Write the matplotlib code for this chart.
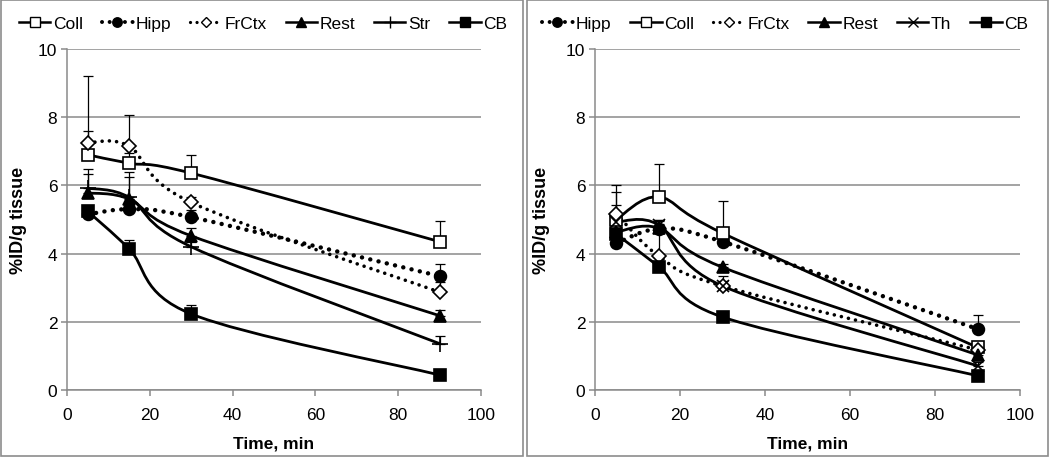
import numpy as np
import matplotlib
matplotlib.use("Agg")
import matplotlib.pyplot as plt
from matplotlib.path import Path
from matplotlib.patches import PathPatch, Rectangle
from matplotlib.lines import Line2D

plt.rcParams["font.family"] = ["Liberation Sans", "DejaVu Sans"]

# ==========================
# Data
# ==========================
time = [5, 15, 30, 90]

# left panel
left_names = ["Coll", "Hipp", "FrCtx", "Rest", "Str", "CB"]
left_vals = {
    "Coll": [6.9, 6.65, 6.36, 4.35],
    "Hipp": [5.15, 5.3, 5.07, 3.34],
    "FrCtx": [7.25, 7.15, 5.5, 2.87],
    "Rest": [5.78, 5.6, 4.52, 2.18],
    "Str": [5.92, 5.65, 4.2, 1.36],
    "CB": [5.24, 4.14, 2.23, 0.44],
}
left_err = {
    "Coll": [0.7, 0.3, 0.52, 0.6],
    "Hipp": [0.2, 0.2, 0.2, 0.36],
    "FrCtx": [1.95, 0.9, 0.15, 0.3],
    "Rest": [0.55, 0.8, 0.23, 0.17],
    "Str": [0.55, 0.6, 0.15, 0.22],
    "CB": [0.1, 0.27, 0.25, 0.05],
}

# right panel
right_names = ["Hipp", "Coll", "FrCtx", "Rest", "Th", "CB"]
right_vals = {
    "Hipp": [4.3, 4.72, 4.35, 1.79],
    "Coll": [5.0, 5.66, 4.6, 1.25],
    "FrCtx": [5.17, 3.93, 3.05, 1.18],
    "Rest": [4.63, 4.75, 3.6, 1.03],
    "Th": [4.93, 4.84, 3.05, 0.71],
    "CB": [4.57, 3.62, 2.14, 0.42],
}
right_err = {
    "Hipp": [0.2, 0.15, 0.2, 0.4],
    "Coll": [0.43, 0.97, 0.95, 0.15],
    "FrCtx": [0.83, 1.05, 0.15, 0.1],
    "Rest": [0.3, 0.2, 0.1, 0.1],
    "Th": [0.87, 0.16, 0.3, 0.1],
    "CB": [0.1, 0.1, 0.1, 0.05],
}

# line / marker styles per region
styles = {
    "Coll": dict(marker="s", mfc="white", ms=9, ls="-", lw=2.0),
    "Hipp": dict(marker="o", mfc="black", ms=8.5, ls=(0, (0.01, 1.9)), lw=3.2),
    "FrCtx": dict(marker="D", mfc="white", ms=7, ls=(0, (0.01, 2.0)), lw=2.6),
    "Rest": dict(marker="^", mfc="black", ms=9, ls="-", lw=2.0),
    "Str": dict(marker="+", mfc="black", ms=11, ls="-", lw=2.0),
    "Th": dict(marker="x", mfc="black", ms=9, ls="-", lw=2.0),
    "CB": dict(marker="s", mfc="black", ms=9, ls="-", lw=2.0),
}


def smooth_path(x, y):
    # Excel-like smoothed line (Catmull-Rom as cubic Bezier)
    pts = np.column_stack([x, y]).astype(float)
    n = len(pts)
    verts = [pts[0]]
    codes = [Path.MOVETO]
    for i in range(n - 1):
        p0 = pts[max(i - 1, 0)]
        p1 = pts[i]
        p2 = pts[i + 1]
        p3 = pts[min(i + 2, n - 1)]
        c1 = p1 + (p2 - p0) / 6.0
        c2 = p2 - (p3 - p1) / 6.0
        verts += [c1, c2, p2]
        codes += [Path.CURVE4] * 3
    return Path(verts, codes)


def draw_panel(ax, names, vals, errs):
    ax.set_xlim(0, 100)
    ax.set_ylim(0, 10)
    ax.set_xticks(range(0, 101, 20))
    ax.set_yticks(range(0, 11, 2))
    ax.grid(axis="y", color="#8a8a8a", lw=1.1)
    ax.set_axisbelow(True)
    for s in ["top", "right"]:
        ax.spines[s].set_visible(False)
    for s in ["left", "bottom"]:
        ax.spines[s].set_color("#8a8a8a")
        ax.spines[s].set_linewidth(1.1)
    ax.tick_params(colors="#8a8a8a", labelcolor="black", labelsize=12.5,
                   length=4, width=1.1)
    ax.tick_params(axis="y", pad=3)
    ax.tick_params(axis="x", pad=8)

    handles = []
    for name in names:
        st = styles[name]
        y = vals[name]
        e = errs[name]
        patch = PathPatch(smooth_path(time, y), fill=False, edgecolor="black",
                          lw=st["lw"], linestyle=st["ls"], capstyle="round",
                          zorder=3)
        ax.add_patch(patch)
        ax.errorbar(time, y, yerr=[np.zeros(len(e)), e], fmt="none",
                    ecolor="black", elinewidth=0.9, capsize=3.5,
                    capthick=0.9, zorder=4)
        ax.plot(time, y, linestyle="none", marker=st["marker"],
                markersize=st["ms"], markerfacecolor=st["mfc"],
                markeredgecolor="black", markeredgewidth=1.2, zorder=5)
        handles.append(Line2D([0], [0], color="black", lw=st["lw"] * 0.9,
                              linestyle=st["ls"], dash_capstyle="round",
                              marker=st["marker"], markersize=st["ms"] * 0.8,
                              markerfacecolor=st["mfc"],
                              markeredgecolor="black", markeredgewidth=1.0,
                              label=name))
    ax.set_xlabel("Time, min", fontsize=12.5, fontweight="bold", labelpad=10)
    ax.set_ylabel("%ID/g tissue", fontsize=13, fontweight="bold")
    return handles


fig = plt.figure(figsize=(10.5, 4.6), dpi=100)

ax1 = fig.add_axes([67 / 1050, 69 / 460, 414 / 1050, 341 / 460])
ax2 = fig.add_axes([595 / 1050, 69 / 460, 425 / 1050, 341 / 460])

h1 = draw_panel(ax1, left_names, left_vals, left_err)
h2 = draw_panel(ax2, right_names, right_vals, right_err)

ax1.yaxis.set_label_coords(-(67 - 27) / 414, 0.5)
ax2.yaxis.set_label_coords(-(595 - 550) / 425, 0.5)

for ax, h, cx in [(ax1, h1, 263 / 1050), (ax2, h2, 785 / 1050)]:
    ax.legend(handles=h, loc="center", bbox_to_anchor=(cx, 1 - 24 / 460),
              bbox_transform=fig.transFigure, ncol=6, frameon=False,
              fontsize=12.5, handlelength=1.8, handletextpad=0.15,
              columnspacing=1.1)

# panel frames
fig.patches.append(Rectangle((1 / 1050, 3 / 460), 522 / 1050, 456 / 460,
                             transform=fig.transFigure, fill=False,
                             edgecolor="#8c8c8c", lw=1.2))
fig.patches.append(Rectangle((527 / 1050, 3 / 460), 521 / 1050, 456 / 460,
                             transform=fig.transFigure, fill=False,
                             edgecolor="#8c8c8c", lw=1.2))

fig.savefig("out.png", dpi=100)
